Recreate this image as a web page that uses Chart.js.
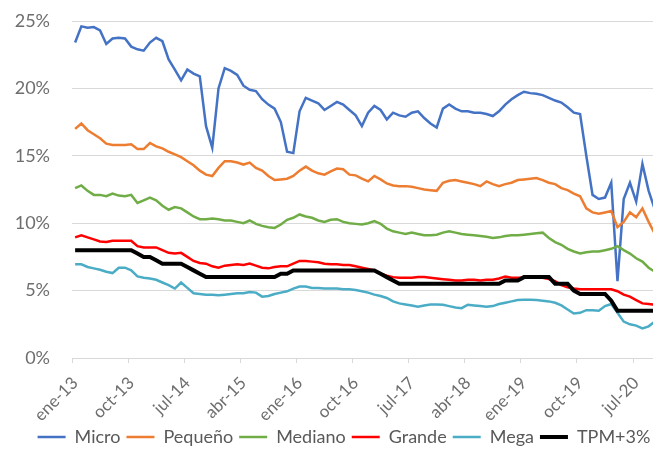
<!DOCTYPE html>
<html>
<head>
<meta charset="utf-8">
<script src="https://cdn.jsdelivr.net/npm/chart.js@4/dist/chart.umd.min.js"></script>
<style>
html,body{margin:0;padding:0;background:#fff;overflow:hidden;width:653px;height:451px;}
#wrap{position:absolute;left:0;top:0;width:688px;height:456px;}
</style>
</head>
<body>
<div id="wrap"><canvas id="c" width="688" height="456" style="width:688px;height:456px"></canvas></div>
<script>
const categories = [
"ene-13","feb-13","mar-13","abr-13","may-13","jun-13","jul-13","ago-13","sep-13","oct-13","nov-13","dic-13",
"ene-14","feb-14","mar-14","abr-14","may-14","jun-14","jul-14","ago-14","sep-14","oct-14","nov-14","dic-14",
"ene-15","feb-15","mar-15","abr-15","may-15","jun-15","jul-15","ago-15","sep-15","oct-15","nov-15","dic-15",
"ene-16","feb-16","mar-16","abr-16","may-16","jun-16","jul-16","ago-16","sep-16","oct-16","nov-16","dic-16",
"ene-17","feb-17","mar-17","abr-17","may-17","jun-17","jul-17","ago-17","sep-17","oct-17","nov-17","dic-17",
"ene-18","feb-18","mar-18","abr-18","may-18","jun-18","jul-18","ago-18","sep-18","oct-18","nov-18","dic-18",
"ene-19","feb-19","mar-19","abr-19","may-19","jun-19","jul-19","ago-19","sep-19","oct-19","nov-19","dic-19",
"ene-20","feb-20","mar-20","abr-20","may-20","jun-20","jul-20","ago-20","sep-20","oct-20"
];
const labelEvery = 9;
const yTicks = [0, 5, 10, 15, 20, 25];

const micro = [
23.4,24.6,24.5,24.55,24.3,23.3,23.7,23.75,23.7,23.1,22.9,22.8,
23.4,23.75,23.5,22.15,21.4,20.6,21.4,21.1,20.9,17.2,15.6,20.0,
21.5,21.3,21.0,20.2,19.9,19.8,19.2,18.8,18.5,17.5,15.3,15.2,
18.3,19.3,19.1,18.9,18.4,18.7,19.0,18.8,18.4,18.0,17.2,18.2,
18.7,18.4,17.7,18.2,18.0,17.9,18.2,18.3,17.8,17.4,17.1,18.5,
18.8,18.5,18.3,18.3,18.2,18.2,18.1,17.95,18.3,18.8,19.2,19.5,
19.75,19.65,19.6,19.5,19.3,19.1,18.95,18.6,18.2,18.1,15.0,12.1,
11.8,11.9,13.0,5.7,11.8,13.0,11.6,14.4,12.4,11.0
];
const pequeno = [
17.0,17.4,16.9,16.6,16.3,15.9,15.8,15.8,15.8,15.85,15.5,15.5,
15.95,15.7,15.55,15.3,15.1,14.9,14.6,14.3,13.9,13.6,13.5,14.1,
14.6,14.6,14.5,14.35,14.5,14.1,13.9,13.5,13.2,13.25,13.3,13.5,
13.9,14.2,13.9,13.7,13.6,13.85,14.05,14.0,13.6,13.55,13.3,13.1,
13.5,13.25,12.95,12.8,12.75,12.75,12.7,12.6,12.5,12.45,12.4,13.0,
13.15,13.2,13.1,13.0,12.9,12.75,13.1,12.9,12.75,12.9,13.0,13.2,
13.25,13.3,13.35,13.2,13.0,12.9,12.6,12.45,12.2,12.0,11.1,10.8,
10.7,10.8,10.9,9.7,10.1,10.8,10.45,11.1,10.1,9.2
];
const mediano = [
12.6,12.8,12.4,12.1,12.1,12.0,12.2,12.05,12.0,12.1,11.5,11.7,
11.9,11.7,11.3,11.0,11.2,11.1,10.8,10.5,10.3,10.3,10.35,10.3,
10.2,10.2,10.1,10.0,10.2,9.95,9.8,9.7,9.65,9.9,10.25,10.4,
10.65,10.5,10.4,10.2,10.1,10.25,10.3,10.1,10.0,9.95,9.9,10.0,
10.15,9.95,9.6,9.4,9.3,9.2,9.3,9.2,9.1,9.1,9.15,9.3,
9.4,9.3,9.2,9.15,9.1,9.05,9.0,8.9,8.95,9.05,9.1,9.1,
9.15,9.2,9.25,9.3,8.9,8.6,8.4,8.1,7.9,7.75,7.85,7.9,
7.9,8.0,8.1,8.3,8.0,7.75,7.4,7.15,6.7,6.4
];
const grande = [
8.95,9.1,8.95,8.8,8.65,8.6,8.7,8.7,8.7,8.7,8.3,8.2,
8.2,8.2,8.0,7.8,7.75,7.8,7.5,7.2,7.05,7.0,6.8,6.7,
6.85,6.9,6.95,6.9,7.0,6.85,6.7,6.65,6.75,6.8,6.8,7.0,
7.2,7.2,7.15,7.1,7.0,6.95,6.95,6.9,6.9,6.8,6.7,6.6,
6.5,6.25,6.1,6.0,5.95,5.95,5.95,6.0,6.0,5.95,5.9,5.85,
5.8,5.75,5.75,5.8,5.8,5.75,5.8,5.8,5.9,6.05,5.95,5.95,
5.95,6.0,6.05,5.95,5.85,5.7,5.4,5.25,5.15,5.1,5.1,5.1,
5.1,5.1,5.1,4.95,4.7,4.55,4.3,4.05,4.0,3.95
];
const mega = [
6.95,6.95,6.75,6.65,6.55,6.4,6.3,6.7,6.7,6.5,6.05,5.95,
5.9,5.8,5.6,5.4,5.15,5.6,5.2,4.8,4.75,4.7,4.7,4.65,
4.7,4.75,4.8,4.8,4.9,4.85,4.55,4.6,4.75,4.85,4.95,5.15,
5.3,5.3,5.2,5.2,5.15,5.15,5.15,5.1,5.1,5.05,4.95,4.85,
4.7,4.6,4.45,4.2,4.05,3.97,3.9,3.8,3.9,3.97,3.97,3.95,
3.85,3.75,3.7,3.95,3.9,3.85,3.8,3.85,4.0,4.1,4.2,4.3,
4.33,4.33,4.3,4.25,4.2,4.1,3.9,3.6,3.3,3.35,3.55,3.55,
3.5,3.85,4.0,3.35,2.7,2.5,2.4,2.2,2.35,2.7
];
const tpm3 = [
8.0,8.0,8.0,8.0,8.0,8.0,8.0,8.0,8.0,8.0,7.75,7.5,
7.5,7.25,7.0,7.0,7.0,7.0,6.75,6.5,6.25,6.0,6.0,6.0,
6.0,6.0,6.0,6.0,6.0,6.0,6.0,6.0,6.0,6.25,6.25,6.5,
6.5,6.5,6.5,6.5,6.5,6.5,6.5,6.5,6.5,6.5,6.5,6.5,
6.5,6.25,6.0,5.75,5.5,5.5,5.5,5.5,5.5,5.5,5.5,5.5,
5.5,5.5,5.5,5.5,5.5,5.5,5.5,5.5,5.5,5.75,5.75,5.75,
6.0,6.0,6.0,6.0,6.0,5.5,5.5,5.5,5.0,4.75,4.75,4.75,
4.75,4.75,4.25,3.5,3.5,3.5,3.5,3.5,3.5,3.5
];

const seriesNames = ["Micro", "Pequeño", "Mediano", "Grande", "Mega", "TPM+3%"];
const seriesData = [micro, pequeno, mediano, grande, mega, tpm3];
const seriesColors = ["#4472C4", "#ED7D31", "#70AD47", "#FF0000", "#4BACC6", "#000000"];
const seriesWidths = [2.5, 2.5, 2.5, 2.5, 2.5, 4];

const textColor = "#6e6e6e";
const gridColor = "#d9d9d9";

const datasets = seriesNames.map((name, i) => ({
  label: name,
  data: seriesData[i],
  borderColor: seriesColors[i],
  backgroundColor: seriesColors[i],
  borderWidth: seriesWidths[i],
  pointRadius: 0,
  pointHoverRadius: 0,
  tension: 0,
  fill: false,
  order: seriesNames.length - 1 - i
}));

new Chart(document.getElementById("c"), {
  type: "line",
  data: { labels: categories, datasets },
  options: {
    responsive: false,
    animation: false,
    devicePixelRatio: 1,
    layout: { padding: { top: 21, left: 0, right: 0, bottom: 0 } },
    plugins: {
      tooltip: { enabled: false },
      legend: {
        position: "bottom",
        labels: {
          usePointStyle: true,
          pointStyle: "line",
          pointStyleWidth: 28,
          padding: 6,
          color: "#595959",
          font: { family: "Lato", size: 18 },
          sort: (a, b) => a.datasetIndex - b.datasetIndex
        }
      }
    },
    scales: {
      x: {
        type: "category",
        offset: true,
        grid: {
          offset: true,
          drawOnChartArea: false,
          drawTicks: true,
          tickLength: 5,
          color: (ctx) => (ctx.index % labelEvery === 0 ? gridColor : "rgba(0,0,0,0)")
        },
        border: { display: true, color: gridColor },
        ticks: {
          autoSkip: false,
          minRotation: 45,
          maxRotation: 45,
          padding: 10,
          color: textColor,
          font: { family: "Lato", size: 17 },
          callback: (v, i) => (i % labelEvery === 0 ? categories[i] : "")
        },
        afterFit: (s) => { s.height = 64; }
      },
      y: {
        min: 0,
        max: 25,
        afterBuildTicks: (s) => { s.ticks = yTicks.map(v => ({ value: v })); },
        grid: { color: gridColor, drawTicks: false },
        border: { display: false },
        ticks: {
          padding: 22,
          color: textColor,
          font: { family: "Lato", size: 18 },
          callback: (v) => v + "%"
        },
        afterFit: (s) => { s.width = 72; s.paddingTop = 0; s.paddingBottom = 0; }
      },
      y2: {
        position: "right",
        display: true,
        grid: { display: false },
        border: { display: false },
        ticks: { display: false },
        afterFit: (s) => { s.width = 30; s.paddingTop = 0; s.paddingBottom = 0; }
      }
    }
  }
});
</script>
</body>
</html>
